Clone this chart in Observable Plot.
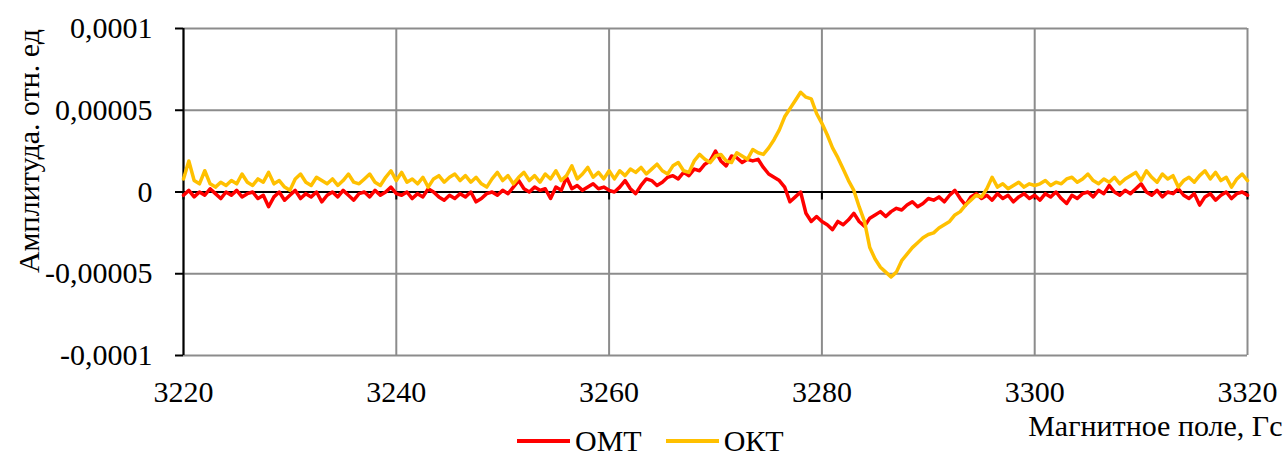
<!DOCTYPE html>
<html>
<head>
<meta charset="utf-8">
<script src="https://cdn.jsdelivr.net/npm/d3@7"></script>
<script src="https://cdn.jsdelivr.net/npm/@observablehq/plot@0.6"></script>
<style>
  body { margin: 0; background: #fff; }
  #wrap { position: relative; width: 1287px; height: 457px; overflow: hidden;
          font-family: "Liberation Serif", "Times New Roman", serif; }
  #wrap svg text { font-family: "Liberation Serif", "Times New Roman", serif !important; }
  #legend { position: absolute; left: 517px; top: 426px; display: flex; align-items: center;
            font-size: 30px; line-height: 30px; color: #000; white-space: nowrap; }
  #legend .sw { display: inline-block; width: 53px; height: 4px; margin-right: 5px; }
  #legend .item { display: flex; align-items: center; margin-right: 24px; }
</style>
</head>
<body>
<div id="wrap"></div>
<script>
// Magnetic field, Gs (0.5 Gs sampling)
const field = [
  3220, 3220.5, 3221, 3221.5, 3222, 3222.5, 3223, 3223.5, 3224, 3224.5, 3225, 3225.5, 3226, 3226.5, 3227, 3227.5, 3228, 3228.5, 3229, 3229.5, 3230,
  3230.5, 3231, 3231.5, 3232, 3232.5, 3233, 3233.5, 3234, 3234.5, 3235, 3235.5, 3236, 3236.5, 3237, 3237.5, 3238, 3238.5, 3239, 3239.5, 3240,
  3240.5, 3241, 3241.5, 3242, 3242.5, 3243, 3243.5, 3244, 3244.5, 3245, 3245.5, 3246, 3246.5, 3247, 3247.5, 3248, 3248.5, 3249, 3249.5, 3250,
  3250.5, 3251, 3251.5, 3252, 3252.5, 3253, 3253.5, 3254, 3254.5, 3255, 3255.5, 3256, 3256.5, 3257, 3257.5, 3258, 3258.5, 3259, 3259.5, 3260,
  3260.5, 3261, 3261.5, 3262, 3262.5, 3263, 3263.5, 3264, 3264.5, 3265, 3265.5, 3266, 3266.5, 3267, 3267.5, 3268, 3268.5, 3269, 3269.5, 3270,
  3270.5, 3271, 3271.5, 3272, 3272.5, 3273, 3273.5, 3274, 3274.5, 3275, 3275.5, 3276, 3276.5, 3277, 3277.5, 3278, 3278.5, 3279, 3279.5, 3280,
  3280.5, 3281, 3281.5, 3282, 3282.5, 3283, 3283.5, 3284, 3284.5, 3285, 3285.5, 3286, 3286.5, 3287, 3287.5, 3288, 3288.5, 3289, 3289.5, 3290,
  3290.5, 3291, 3291.5, 3292, 3292.5, 3293, 3293.5, 3294, 3294.5, 3295, 3295.5, 3296, 3296.5, 3297, 3297.5, 3298, 3298.5, 3299, 3299.5, 3300,
  3300.5, 3301, 3301.5, 3302, 3302.5, 3303, 3303.5, 3304, 3304.5, 3305, 3305.5, 3306, 3306.5, 3307, 3307.5, 3308, 3308.5, 3309, 3309.5, 3310,
  3310.5, 3311, 3311.5, 3312, 3312.5, 3313, 3313.5, 3314, 3314.5, 3315, 3315.5, 3316, 3316.5, 3317, 3317.5, 3318, 3318.5, 3319, 3319.5, 3320
];

// ОМТ amplitude, in units of 1e-6
const omt = [
  -2, 1, -3, 0, -2, 2, -1, -4, 0, -2, 1, -3, -1, 0, -4, -2, -9, -3, 0, -5, -2,
  1, -4, -1, -3, 0, -6, -2, 0, -3, 1, -2, -5, -1, 0, -3, 1, -2, 0, 3, -1,
  -2, 0, -4, -1, -3, 2, 0, -3, -5, -2, -4, -1, -3, 0, -6, -4, -1, 0, -2, 1,
  -1, 3, 7, 2, 0, 3, 1, 2, -4, 3, 1, 9, 2, 4, 1, 3, 5, 2, 3, 1,
  0, 3, 7, 2, -1, 4, 8, 7, 4, 6, 9, 10, 8, 12, 10, 14, 13, 17, 19, 25,
  19, 16, 22, 21, 18, 20, 19, 20, 15, 11, 9, 7, 3, -6, -3, 0, -13, -18, -15, -18,
  -20, -23, -18, -20, -17, -13, -18, -21, -16, -14, -12, -15, -12, -10, -11, -8, -6, -9, -7, -4,
  -5, -3, -6, -2, 1, -4, -8, -3, -1, -4, -2, -5, -1, -4, -2, -6, -3, -1, -4, -2,
  -5, -1, -3, 0, -4, -7, -2, -4, -1, 0, -3, 1, -1, 4, 0, -2, 1, -1, 2, 5,
  0, -2, 1, -3, 0, -1, 2, -2, -4, -1, -8, -3, -1, -5, -2, 0, -4, -1, 0, -2
];

// ОКТ amplitude, in units of 1e-6
const okt = [
  8, 19, 7, 5, 13, 5, 3, 6, 4, 7, 5, 11, 6, 4, 8, 6, 12, 5, 7, 3, 1,
  8, 11, 6, 4, 9, 7, 5, 8, 4, 7, 11, 6, 5, 8, 11, 6, 4, 9, 13, 7,
  12, 6, 8, 5, 9, 3, 8, 10, 6, 9, 11, 7, 10, 6, 9, 5, 3, 8, 12, 7,
  10, 5, 9, 12, 7, 10, 6, 11, 8, 13, 7, 10, 16, 8, 11, 15, 9, 12, 8, 13,
  8, 13, 10, 14, 12, 15, 11, 14, 17, 13, 11, 16, 18, 13, 12, 19, 23, 20, 18, 22,
  23, 19, 18, 24, 22, 20, 26, 24, 23, 27, 32, 38, 46, 51, 56, 61, 58, 57, 48, 42,
  35, 27, 21, 14, 7, 1, -9, -18, -34, -41, -46, -49, -52, -49, -42, -38, -34, -31, -28, -26,
  -25, -22, -20, -18, -14, -12, -8, -5, -2, -3, 2, 9, 3, 5, 2, 4, 6, 3, 5, 4,
  5, 7, 4, 6, 5, 8, 9, 6, 8, 11, 7, 5, 8, 6, 9, 5, 8, 10, 12, 7,
  13, 9, 6, 11, 8, 10, 3, 7, 9, 6, 10, 13, 8, 12, 7, 9, 3, 8, 11, 7
];

const seriesNames = ["ОМТ", "ОКТ"];
const seriesColors = ["#FF0000", "#FFC000"];

const xTicks = [3220, 3240, 3260, 3280, 3300, 3320];
const xTickLabels = ["3220", "3240", "3260", "3280", "3300", "3320"];
const yTicks = [-0.0001, -0.00005, 0, 0.00005, 0.0001];
const yTickLabels = ["-0,0001", "-0,00005", "0", "0,00005", "0,0001"];

const xTitle = "Магнитное поле, Гс";
const yTitle = "Амплитуда. отн. ед";

const unit = 1e-6;
const toRows = (vals) => field.map((f, i) => ({field: f, amp: vals[i] * unit}));
const xLab = new Map(xTicks.map((t, i) => [t, xTickLabels[i]]));
const yLab = new Map(yTicks.map((t, i) => [t, yTickLabels[i]]));

const GRID = "#8c8c8c";
const FONT = '"Liberation Serif", "Times New Roman", serif';

const chart = Plot.plot({
  width: 1287,
  height: 457,
  marginTop: 28,
  marginRight: 40,
  marginBottom: 102,
  marginLeft: 183,
  style: {fontFamily: FONT, fontSize: "30px", background: "white", color: "black", overflow: "visible"},
  x: {domain: [3220, 3320]},
  y: {domain: [-0.0001, 0.0001]},
  marks: [
    // gridlines
    Plot.ruleX(xTicks, {stroke: GRID, strokeWidth: 2}),
    Plot.ruleY(yTicks, {stroke: GRID, strokeWidth: 2}),
    // zero line and vertical axis line
    Plot.ruleY([0], {stroke: "black", strokeWidth: 2}),
    Plot.ruleX([xTicks[0]], {stroke: "black", strokeWidth: 2}),
    // x tick marks hanging below the zero line
    Plot.ruleX(xTicks, {y1: 0, y2: 0, insetBottom: -8, stroke: "black", strokeWidth: 2}),
    Plot.axisX({ticks: xTicks, tickSize: 0, tickPadding: 25, tickFormat: (d) => xLab.get(d), label: null, fontSize: 30, fontFamily: FONT}),
    Plot.axisY({ticks: yTicks, tickSize: 8, tickPadding: 23, strokeWidth: 2, tickFormat: (d) => yLab.get(d), label: null, fontSize: 30, fontFamily: FONT}),
    // spectra
    Plot.line(toRows(omt), {x: "field", y: "amp", stroke: seriesColors[0], strokeWidth: 3.5, strokeLinejoin: "round"}),
    Plot.line(toRows(okt), {x: "field", y: "amp", stroke: seriesColors[1], strokeWidth: 3.5, strokeLinejoin: "round"}),
    // axis titles
    Plot.text([yTitle], {frameAnchor: "left", textAnchor: "middle", rotate: -90, dx: -154, dy: -41, fontSize: 30, fontFamily: FONT, fill: "black"}),
    Plot.text([xTitle], {frameAnchor: "bottom-right", textAnchor: "end", dx: 35, dy: 80, fontSize: 30, fontFamily: FONT, fill: "black"})
  ]
});

const wrap = document.getElementById("wrap");
wrap.appendChild(chart);

// legend below the plot
const legend = document.createElement("div");
legend.id = "legend";
seriesNames.forEach((name, i) => {
  const item = document.createElement("span");
  item.className = "item";
  const sw = document.createElement("span");
  sw.className = "sw";
  sw.style.background = seriesColors[i];
  const label = document.createElement("span");
  label.textContent = name;
  item.appendChild(sw);
  item.appendChild(label);
  legend.appendChild(item);
});
wrap.appendChild(legend);
</script>
</body>
</html>
